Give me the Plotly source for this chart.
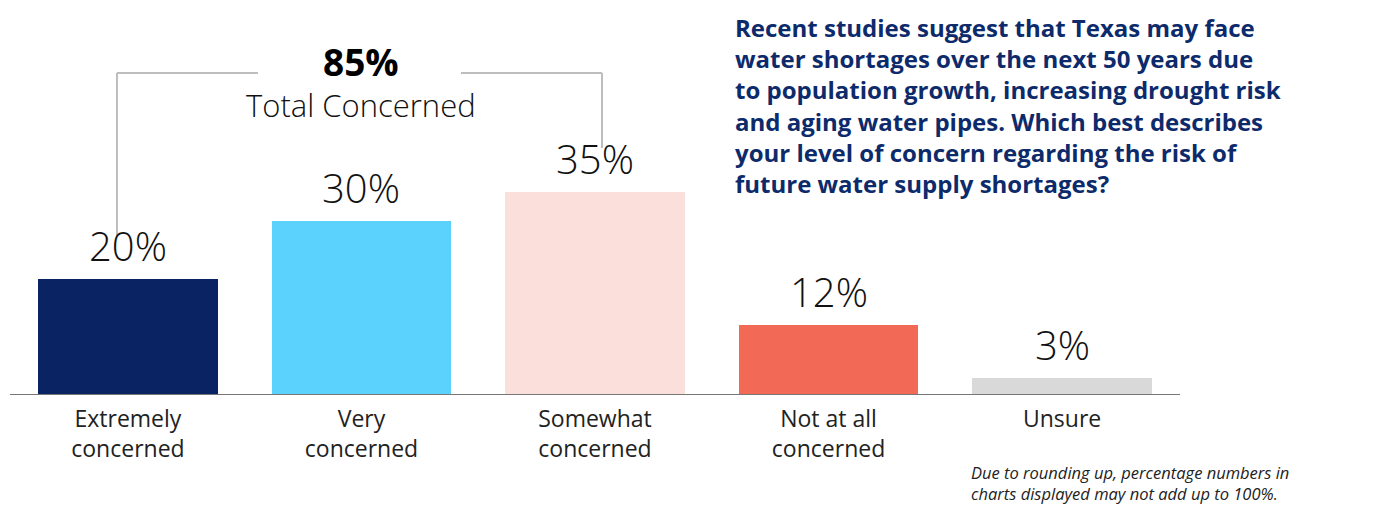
import plotly.graph_objects as go

categories = ["Extremely<br>concerned", "Very<br>concerned", "Somewhat<br>concerned",
              "Not at all<br>concerned", "Unsure"]
values = [20, 30, 35, 12, 3]
value_labels = ["20%", "30%", "35%", "12%", "3%"]
colors = ["#0a2463", "#5bd2fd", "#fadfdb", "#f26a55", "#d9d9d9"]
total_value = "85%"
total_label = "Total Concerned"
question = ("Recent studies suggest that Texas may face<br>"
            "water shortages over the next 50 years due<br>"
            "to population growth, increasing drought risk<br>"
            "and aging water pipes. Which best describes<br>"
            "your level of concern regarding the risk of<br>"
            "future water supply shortages?")
footnote = ("Due to rounding up, percentage numbers in<br>"
            "charts displayed may not add up to 100%.")

FONT = "Open Sans"
x_idx = list(range(len(categories)))

# the page body has an 8px margin; work in page pixels and compensate
OFF = 8
W, H = 1377 - OFF, 506 - OFF
plot_l, plot_r, plot_t, plot_b = 10, 1180, 47, 395  # page pixels


def px_x(p):
    return (p - plot_l) / (plot_r - plot_l)


def px_y(p):
    return (plot_b - p) / (plot_b - plot_t)


fig = go.Figure()
fig.add_trace(go.Bar(
    x=x_idx, y=values, marker=dict(color=colors, line=dict(width=0)),
    width=0.77, hoverinfo="skip", showlegend=False,
))

annotations = []
for i, (v, t) in enumerate(zip(values, value_labels)):
    annotations.append(dict(x=i, y=v, xref="x", yref="y", text=t, showarrow=False,
                            yanchor="bottom", yshift=4,
                            font=dict(family=FONT, size=40, color="#111", weight=300)))

mid = (x_idx[0] + x_idx[2]) / 2
annotations.append(dict(x=mid, y=px_y(61), xref="x", yref="paper",
                        text="<b>" + total_value + "</b>", showarrow=False,
                        yanchor="middle",
                        font=dict(family=FONT, size=37, color="#000")))
annotations.append(dict(x=mid, y=px_y(105), xref="x", yref="paper",
                        text=total_label, showarrow=False, yanchor="middle",
                        font=dict(family=FONT, size=31, color="#111", weight=300)))
annotations.append(dict(x=px_x(733), y=px_y(9), xref="paper", yref="paper",
                        text="<b>" + question + "</b>", showarrow=False,
                        align="left", xanchor="left", yanchor="top",
                        font=dict(family=FONT, size=24, color="#0d2a6b")))
annotations.append(dict(x=px_x(969), y=px_y(459), xref="paper", yref="paper",
                        text="<i>" + footnote + "</i>", showarrow=False,
                        align="left", xanchor="left", yanchor="top",
                        font=dict(family=FONT, size=16.5, color="#222")))

fig.update_layout(
    width=W, height=H,
    margin=dict(l=plot_l - OFF, r=W - (plot_r - OFF), t=plot_t - OFF,
                b=H - (plot_b - OFF)),
    paper_bgcolor="white", plot_bgcolor="white",
    bargap=0,
    annotations=annotations,
    xaxis=dict(range=[-0.505, 4.505], tickmode="array", tickvals=x_idx,
               ticktext=categories, showgrid=False, zeroline=False,
               showline=False, ticks="", ticklabelstandoff=8,
               tickfont=dict(family=FONT, size=23, color="#222")),
    yaxis=dict(range=[0, 60], visible=False, showgrid=False, zeroline=False),
)

# baseline axis line
fig.add_shape(type="line", xref="paper", yref="y", x0=0, x1=1, y0=0, y1=0,
              line=dict(color="#777", width=2), layer="above")

# bracket
gray = dict(color="#bdbdbd", width=2)
left_x, right_x = -0.047, 2.03
top_y = px_y(73)
fig.add_shape(type="line", xref="x", yref="paper", x0=left_x, x1=left_x,
              y0=top_y, y1=px_y(236), line=gray)
fig.add_shape(type="line", xref="x", yref="paper", x0=left_x, x1=(258 - 128) / 233.5,
              y0=top_y, y1=top_y, line=gray)
fig.add_shape(type="line", xref="x", yref="paper", x0=(461 - 128) / 233.5, x1=right_x,
              y0=top_y, y1=top_y, line=gray)
fig.add_shape(type="line", xref="x", yref="paper", x0=right_x, x1=right_x,
              y0=top_y, y1=px_y(148), line=gray)

fig.write_html("out.html")
